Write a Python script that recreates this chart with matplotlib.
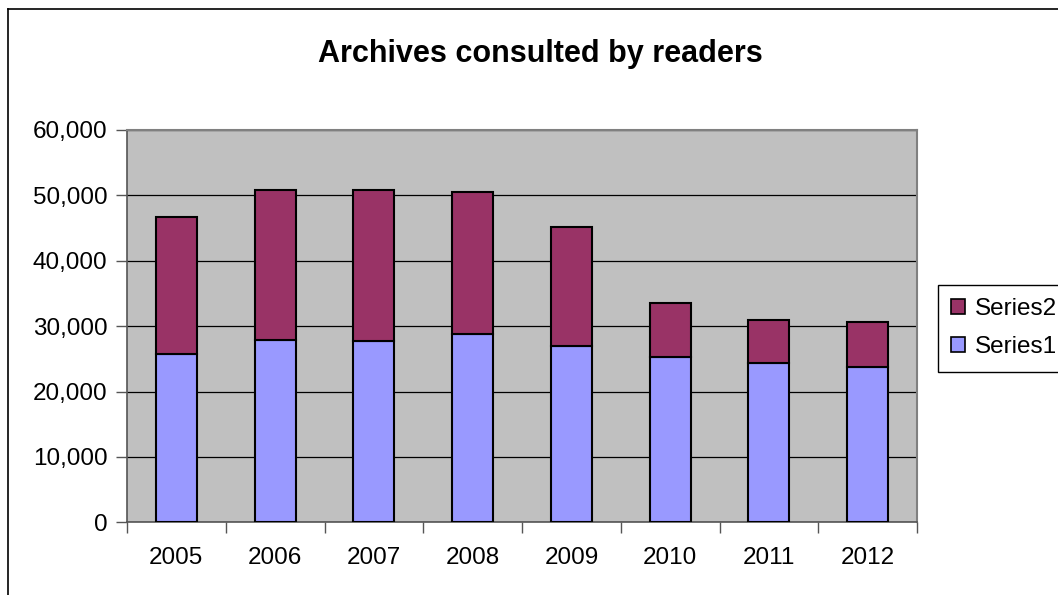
import matplotlib
matplotlib.use('Agg')
import matplotlib.pyplot as plt
import numpy as np
from matplotlib.lines import Line2D
from matplotlib.patches import Patch
from matplotlib.ticker import FuncFormatter

plt.rcParams['font.family'] = ['Liberation Sans', 'DejaVu Sans']

years = ['2005', '2006', '2007', '2008', '2009', '2010', '2011', '2012']
series1 = [25780, 27920, 27680, 28750, 26960, 25230, 24310, 23750]
series2 = [20850, 22890, 23130, 21750, 18190, 8350, 6575, 6830]

COL_S1 = '#9999FF'
COL_S2 = '#993366'
PLOT_BG = '#C0C0C0'

W, H = 1058, 595
fig = plt.figure(figsize=(W / 100, H / 100), dpi=100)
ax = fig.add_axes([127 / W, 1 - 522.3 / H, 790 / W, 392.3 / H])
ax.set_facecolor(PLOT_BG)

x = np.arange(len(years))
bw = 0.415
ax.bar(x, series1, width=bw, color=COL_S1, edgecolor='black', linewidth=1.5, zorder=3)
ax.bar(x, series2, width=bw, bottom=series1, color=COL_S2, edgecolor='black',
       linewidth=1.5, zorder=3)

ax.set_xlim(-0.5, len(years) - 0.5)
ax.set_ylim(0, 60000)
ax.set_yticks(np.arange(0, 60001, 10000))
ax.yaxis.set_major_formatter(FuncFormatter(lambda v, p: f'{int(v):,}'))
ax.yaxis.grid(True, color='black', linewidth=0.9, zorder=1)
ax.set_axisbelow(True)

# category boundaries get tick marks, labels sit in between
ax.set_xticks(np.arange(-0.5, len(years), 1.0))
ax.set_xticklabels([])
ax.set_xticks(x, minor=True)
ax.set_xticklabels(years, minor=True)
ax.tick_params(axis='x', which='minor', length=0, pad=18, labelsize=17.5)
ax.tick_params(axis='x', which='major', length=8, width=1, color='#555555')
ax.tick_params(axis='y', length=8, width=1, color='#555555', pad=6, labelsize=17.5)

for side in ['left', 'bottom']:
    ax.spines[side].set_color('#555555')
    ax.spines[side].set_linewidth(1.2)
for side in ['top', 'right']:
    ax.spines[side].set_color('#808080')
    ax.spines[side].set_linewidth(1.5)

fig.text(540 / W, 1 - 54 / H, 'Archives consulted by readers', ha='center', va='center',
         fontsize=22, fontweight='bold')

# outer chart border
fig.add_artist(Line2D([8 / W, 8 / W], [0, 1 - 9 / H], color='black', linewidth=1.2,
                      transform=fig.transFigure))
fig.add_artist(Line2D([8 / W, 1], [1 - 9 / H, 1 - 9 / H], color='black', linewidth=1.2,
                      transform=fig.transFigure))

handles = [Patch(facecolor=COL_S2, edgecolor='black', linewidth=1.2),
           Patch(facecolor=COL_S1, edgecolor='black', linewidth=1.2)]
leg = fig.legend(handles, ['Series2', 'Series1'], loc='upper left',
                 bbox_to_anchor=(938 / W, 1 - 285 / H), borderaxespad=0,
                 fontsize=17.5, fancybox=False, edgecolor='black', framealpha=1,
                 handlelength=0.55, handleheight=0.55, handletextpad=0.4,
                 labelspacing=0.65, borderpad=0.55)
leg.get_frame().set_linewidth(1.0)

plt.savefig('out.png', dpi=100)
plt.close()
